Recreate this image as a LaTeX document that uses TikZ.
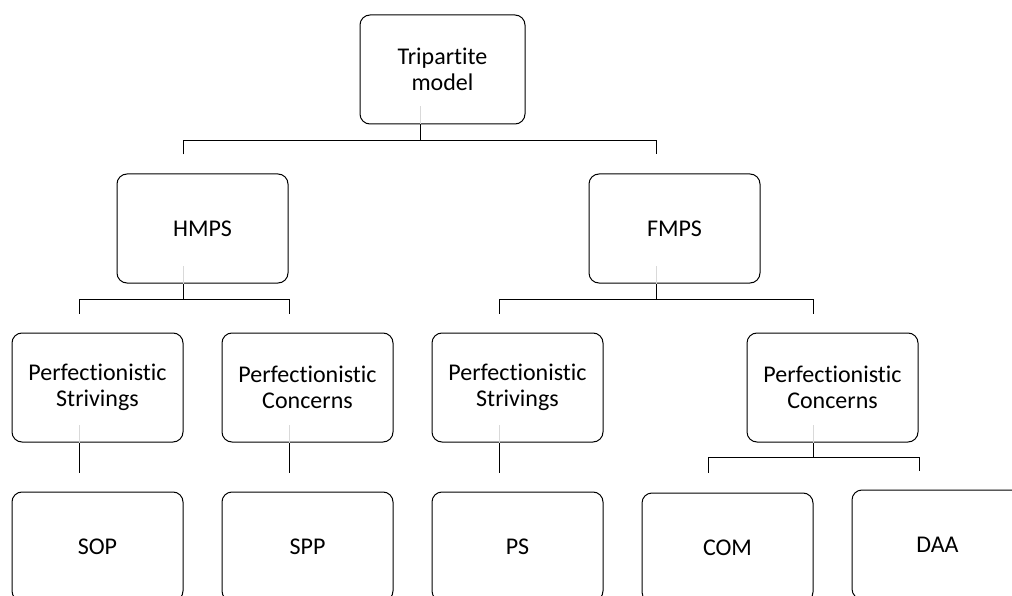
\documentclass[tikz,border=0pt]{standalone}
\usepackage{fontspec}
\setmainfont{Carlito}[RawFeature=-liga]
\tikzset{
  box/.style={draw, line width=1pt, rounded corners=10pt, minimum width=171pt,
    minimum height=109pt, align=center, inner sep=0pt,
    font=\fontsize{24}{26}\selectfont},
  link/.style={line width=1pt},
  ghost/.style={line width=1pt, black!15},
}
\begin{document}
\begin{tikzpicture}[x=1pt,y=-1pt]
 \useasboundingbox (0,0) rectangle (1012,596);
 \clip (0,0) rectangle (1012,596);
 % boxes
 \node[box,minimum width=165pt] (tri) at (442.5,69.5) {Tripartite\\model};
 \node[box] (hmps) at (202.5,228.5) {HMPS};
 \node[box] (fmps) at (674.5,228.5) {FMPS};
 \node[box] (hstr) at (97.5,387.5) {Perfectionistic\\Strivings};
 \node[box] (hcon) at (307.5,387.5) {Perfectionistic\\Concerns};
 \node[box] (fstr) at (517.5,387.5) {Perfectionistic\\Strivings};
 \node[box] (fcon) at (832.5,387.5) {Perfectionistic\\Concerns};
 \node[box] (sop) at (97.5,546.5) {SOP};
 \node[box] (spp) at (307.5,546.5) {SPP};
 \node[box] (ps) at (517.5,546.5) {PS};
 \node[box] (com) at (727.5,547.5) {COM};
 \node[box] (daa) at (937.5,544.5) {DAA};
 % faint stems inside the boxes
 \foreach \n/\s in {tri/22.5,hmps/19.5,fmps/18.5,hstr/18.5,hcon/18.5,fstr/18.5,fcon/19.5}
  \draw[ghost] ([xshift=-\s pt]\n.south) -- ++(0,-18);
 % connectors
 \draw[link] ([xshift=-22.5pt]tri.south) -- ++(0,16) coordinate (j0);
 \draw[link] ([xshift=-19.5pt,yshift=19pt]hmps.north) |- (j0)
   -| ([xshift=-18.5pt,yshift=19pt]fmps.north);
 \draw[link] ([xshift=-19.5pt]hmps.south) -- ++(0,16) coordinate (j1);
 \draw[link] ([xshift=-18.5pt,yshift=19pt]hstr.north) |- (j1)
   -| ([xshift=-18.5pt,yshift=19pt]hcon.north);
 \draw[link] ([xshift=-18.5pt]fmps.south) -- ++(0,16) coordinate (j2);
 \draw[link] ([xshift=-18.5pt,yshift=19pt]fstr.north) |- (j2)
   -| ([xshift=-19.5pt,yshift=19pt]fcon.north);
 \draw[link] ([xshift=-18.5pt]hstr.south) -- ([xshift=-18.5pt,yshift=19pt]sop.north);
 \draw[link] ([xshift=-18.5pt]hcon.south) -- ([xshift=-18.5pt,yshift=19pt]spp.north);
 \draw[link] ([xshift=-18.5pt]fstr.south) -- ([xshift=-18.5pt,yshift=19pt]ps.north);
 \draw[link] ([xshift=-19.5pt]fcon.south) -- ++(0,15) coordinate (j3);
 \draw[link] ([xshift=-19.5pt,yshift=20pt]com.north) |- (j3)
   -| ([xshift=-18.5pt,yshift=19pt]daa.north);
\end{tikzpicture}
\end{document}
